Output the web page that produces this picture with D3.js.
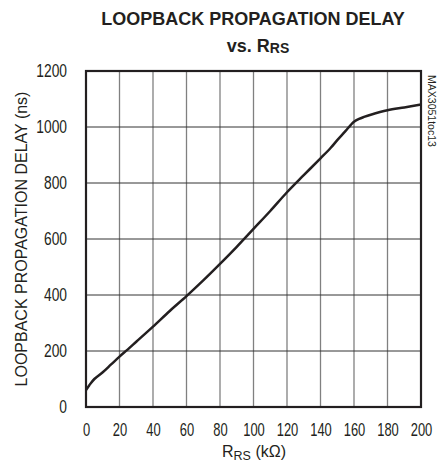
<!DOCTYPE html>
<html><head><meta charset="utf-8">
<script src="https://cdn.jsdelivr.net/npm/d3@7"></script>
<style>
html,body{margin:0;padding:0;background:#fff;}
svg text{font-family:"Liberation Sans",Arial,sans-serif;fill:#231f20;}
</style></head>
<body>
<svg id="c" width="438" height="470"></svg>
<script>
const xTicks = [0,20,40,60,80,100,120,140,160,180,200];
const yTicks = [0,200,400,600,800,1000,1200];
const rrs = [0,2,5,10,15,20,25,30,40,50,60,70,80,90,100,110,120,130,140,146,150,155,158,160,163,166,170,180,190,200];
const delay = [60,78,100,124,152,180,206,233,287,343,396,452,511,572,636,700,767,828,888,925,953,986,1007,1019,1029,1036,1044,1060,1070,1080];

const svg = d3.select("#c");
const L=86, R=421, T=71, B=407;
const x = d3.scaleLinear().domain([0,200]).range([L,R]);
const y = d3.scaleLinear().domain([0,1200]).range([B,T]);

// grid
svg.append("g").selectAll("line").data(xTicks.slice(1,-1)).join("line")
  .attr("x1",d=>x(d)).attr("x2",d=>x(d)).attr("y1",T).attr("y2",B)
  .attr("stroke","#808080").attr("stroke-width",1.3);
svg.append("g").selectAll("line").data(yTicks.slice(1,-1)).join("line")
  .attr("x1",L).attr("x2",R).attr("y1",d=>y(d)).attr("y2",d=>y(d))
  .attr("stroke","#333").attr("stroke-width",1);

// axes labels
const fmt = d3.format("d");
const sx = 0.74, sy = 0.79;
const xa = svg.append("g").attr("transform",`translate(0,${B})`)
  .call(d3.axisBottom(x).tickValues(xTicks).tickFormat(fmt).tickSize(0).tickPadding(17));
xa.select(".domain").remove();
xa.selectAll("text").attr("font-size",17.5).attr("fill","#231f20").attr("font-family",null)
  .attr("transform",`scale(${sx},1)`);
const ya = svg.append("g").attr("transform",`translate(${L},0)`)
  .call(d3.axisLeft(y).tickValues(yTicks).tickFormat(fmt).tickSize(0).tickPadding(19));
ya.select(".domain").remove();
ya.selectAll("text").attr("font-size",17.5).attr("fill","#231f20").attr("font-family",null)
  .attr("x",-19/sy).attr("transform",`scale(${sy},1)`);

// curve
svg.append("path").datum(rrs.map((r,i)=>[r,delay[i]]))
  .attr("fill","none").attr("stroke","#231f20").attr("stroke-width",2.5)
  .attr("d",d3.line().x(d=>x(d[0])).y(d=>y(d[1])).curve(d3.curveCatmullRom));

// frame
svg.append("rect").attr("x",L).attr("y",T).attr("width",R-L).attr("height",B-T)
  .attr("fill","none").attr("stroke","#231f20").attr("stroke-width",2.2);

// titles
svg.append("text").attr("x",253).attr("y",25).attr("text-anchor","middle")
  .attr("font-size",18).attr("font-weight","bold").text("LOOPBACK PROPAGATION DELAY");
const t2 = svg.append("text").attr("x",258).attr("y",52).attr("text-anchor","middle")
  .attr("font-size",18).attr("font-weight","bold");
t2.append("tspan").text("vs. R");
t2.append("tspan").attr("font-size",14).attr("dy",1).text("RS");

const xt = svg.append("text").attr("x",254).attr("y",457).attr("text-anchor","middle").attr("font-size",16);
xt.append("tspan").text("R");
xt.append("tspan").attr("font-size",12.5).attr("dy",3).text("RS");
xt.append("tspan").attr("dy",-3).text(" (kΩ)");

svg.append("text").attr("transform",`translate(27,${(T+B)/2}) rotate(-90)`)
  .attr("text-anchor","middle").attr("font-size",16).text("LOOPBACK PROPAGATION DELAY (ns)");

svg.append("text").attr("transform",`translate(428,111) rotate(90)`)
  .attr("text-anchor","middle").attr("font-size",10.5).text("MAX3051toc13");
</script>
</body></html>
